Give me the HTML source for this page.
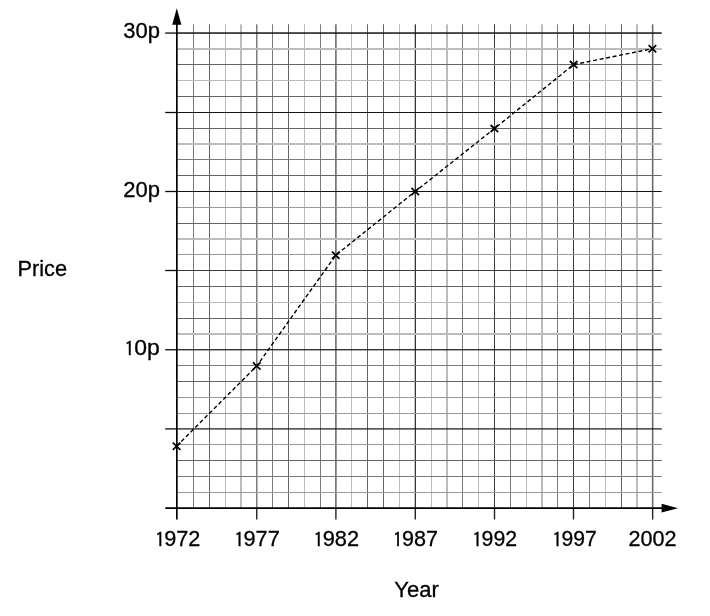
<!DOCTYPE html>
<html lang="en"><head><meta charset="utf-8"><title>Price by Year</title>
<style>html,body{margin:0;padding:0;background:#fff}svg{display:block;will-change:transform}</style>
</head><body>
<svg width="710" height="616" viewBox="0 0 710 616">
<rect width="710" height="616" fill="#fff"/>
<g style="mix-blend-mode:multiply">
<rect x="193" y="24.3" width="1.0" height="483.8" fill="#7c7c7c"/>
<rect x="209" y="24.3" width="1.0" height="483.8" fill="#646464"/>
<rect x="225" y="24.3" width="1.0" height="483.8" fill="#bababa"/>
<rect x="240" y="24.3" width="2.0" height="483.8" fill="#bcbcbc"/>
<rect x="256.0" y="24.3" width="1.5" height="483.8" fill="#7c7c7c"/>
<rect x="272" y="24.3" width="1.0" height="483.8" fill="#7c7c7c"/>
<rect x="288" y="24.3" width="1.0" height="483.8" fill="#646464"/>
<rect x="304" y="24.3" width="1.0" height="483.8" fill="#bababa"/>
<rect x="320" y="24.3" width="1.0" height="483.8" fill="#7c7c7c"/>
<rect x="335.15" y="24.3" width="1.5" height="483.8" fill="#646464"/>
<rect x="351" y="24.3" width="1.0" height="483.8" fill="#bababa"/>
<rect x="367" y="24.3" width="1.0" height="483.8" fill="#646464"/>
<rect x="383" y="24.3" width="1.0" height="483.8" fill="#646464"/>
<rect x="399" y="24.3" width="1.0" height="483.8" fill="#bababa"/>
<rect x="414.75" y="24.3" width="1.1" height="483.8" fill="#141414"/>
<rect x="431" y="24.3" width="1.0" height="483.8" fill="#bababa"/>
<rect x="446" y="24.3" width="2.0" height="483.8" fill="#bcbcbc"/>
<rect x="462" y="24.3" width="1.0" height="483.8" fill="#7c7c7c"/>
<rect x="478" y="24.3" width="1.0" height="483.8" fill="#bababa"/>
<rect x="494" y="24.3" width="1.0" height="483.8" fill="#3a3a3a"/>
<rect x="510" y="24.3" width="1.0" height="483.8" fill="#7c7c7c"/>
<rect x="526" y="24.3" width="1.0" height="483.8" fill="#bababa"/>
<rect x="541" y="24.3" width="2.0" height="483.8" fill="#bcbcbc"/>
<rect x="557" y="24.3" width="1.0" height="483.8" fill="#7c7c7c"/>
<rect x="573" y="24.3" width="1.0" height="483.8" fill="#3a3a3a"/>
<rect x="589" y="24.3" width="1.0" height="483.8" fill="#7c7c7c"/>
<rect x="605" y="24.3" width="1.0" height="483.8" fill="#bababa"/>
<rect x="621" y="24.3" width="1.0" height="483.8" fill="#646464"/>
<rect x="636" y="24.3" width="2.0" height="483.8" fill="#bcbcbc"/>
<rect x="651.9" y="24.3" width="1.5" height="483.8" fill="#646464"/>
<rect x="177.35" y="492" width="484.4" height="1.0" fill="#9a9a9a"/>
<rect x="177.35" y="476" width="484.4" height="1.0" fill="#7c7c7c"/>
<rect x="177.35" y="460" width="484.4" height="1.0" fill="#646464"/>
<rect x="177.35" y="444" width="484.4" height="1.0" fill="#9a9a9a"/>
<rect x="177.35" y="428.3" width="484.4" height="1.2" fill="#141414"/>
<rect x="177.35" y="413" width="484.4" height="1.0" fill="#9a9a9a"/>
<rect x="177.35" y="397" width="484.4" height="1.0" fill="#9a9a9a"/>
<rect x="177.35" y="381" width="484.4" height="1.0" fill="#646464"/>
<rect x="177.35" y="365" width="484.4" height="1.0" fill="#7c7c7c"/>
<rect x="177.35" y="349.15" width="484.4" height="1.2" fill="#141414"/>
<rect x="177.35" y="333" width="484.4" height="2.0" fill="#bcbcbc"/>
<rect x="177.35" y="318" width="484.4" height="1.0" fill="#646464"/>
<rect x="177.35" y="302" width="484.4" height="1.0" fill="#bababa"/>
<rect x="177.35" y="286" width="484.4" height="1.0" fill="#646464"/>
<rect x="177.35" y="270" width="484.4" height="1.0" fill="#3a3a3a"/>
<rect x="177.35" y="254" width="484.4" height="1.0" fill="#9a9a9a"/>
<rect x="177.35" y="238" width="484.4" height="2.0" fill="#bcbcbc"/>
<rect x="177.35" y="223" width="484.4" height="1.0" fill="#646464"/>
<rect x="177.35" y="207" width="484.4" height="1.0" fill="#9a9a9a"/>
<rect x="177.35" y="191" width="484.4" height="1.0" fill="#141414"/>
<rect x="177.35" y="175" width="484.4" height="1.0" fill="#646464"/>
<rect x="177.35" y="159" width="484.4" height="1.0" fill="#7c7c7c"/>
<rect x="177.35" y="143" width="484.4" height="2.0" fill="#bcbcbc"/>
<rect x="177.35" y="128" width="484.4" height="1.0" fill="#646464"/>
<rect x="177.35" y="112" width="484.4" height="1.0" fill="#141414"/>
<rect x="177.35" y="96" width="484.4" height="1.0" fill="#646464"/>
<rect x="177.35" y="80" width="484.4" height="1.0" fill="#bababa"/>
<rect x="177.35" y="64" width="484.4" height="1.0" fill="#646464"/>
<rect x="177.35" y="48" width="484.4" height="2.0" fill="#bcbcbc"/>
<rect x="177.35" y="32.3" width="484.4" height="1.5" fill="#141414"/>
</g>
<line x1="256.75" y1="508" x2="256.75" y2="519.5" stroke="#222" stroke-width="1.4"/>
<line x1="335.90" y1="508" x2="335.90" y2="519.5" stroke="#222" stroke-width="1.4"/>
<line x1="415.30" y1="508" x2="415.30" y2="519.5" stroke="#222" stroke-width="1.4"/>
<line x1="494.50" y1="508" x2="494.50" y2="519.5" stroke="#222" stroke-width="1.4"/>
<line x1="573.50" y1="508" x2="573.50" y2="519.5" stroke="#222" stroke-width="1.4"/>
<line x1="652.65" y1="508" x2="652.65" y2="519.5" stroke="#222" stroke-width="1.4"/>
<line x1="165.2" y1="428.90" x2="177" y2="428.90" stroke="#0a0a0a" stroke-width="1.3"/>
<line x1="165.2" y1="349.75" x2="177" y2="349.75" stroke="#0a0a0a" stroke-width="1.3"/>
<line x1="165.2" y1="270.50" x2="177" y2="270.50" stroke="#0a0a0a" stroke-width="1.3"/>
<line x1="165.2" y1="191.50" x2="177" y2="191.50" stroke="#0a0a0a" stroke-width="1.3"/>
<line x1="165.2" y1="112.50" x2="177" y2="112.50" stroke="#0a0a0a" stroke-width="1.3"/>
<line x1="165.2" y1="33.05" x2="177" y2="33.05" stroke="#0a0a0a" stroke-width="1.3"/>
<line x1="176.85" y1="20" x2="176.85" y2="519.6" stroke="#000" stroke-width="1.7"/>
<line x1="165.3" y1="508.15" x2="665" y2="508.15" stroke="#000" stroke-width="1.7"/>
<polygon points="176.8,8.3 181.4,24.8 172.2,24.8" fill="#000"/>
<polygon points="678,508.2 661.6,503.8 661.6,512.6" fill="#000"/>
<polyline points="176.60,446.20 256.75,366.00 335.75,255.20 415.25,191.45 494.40,128.60 573.60,64.60 652.40,48.70" fill="none" stroke="#000" stroke-width="1.4" stroke-dasharray="4 2.6"/>
<path d="M172.80 442.60L180.40 449.80M172.80 449.80L180.40 442.60" stroke="#000" stroke-width="1.75" fill="none"/>
<path d="M252.95 362.40L260.55 369.60M252.95 369.60L260.55 362.40" stroke="#000" stroke-width="1.75" fill="none"/>
<path d="M331.95 251.60L339.55 258.80M331.95 258.80L339.55 251.60" stroke="#000" stroke-width="1.75" fill="none"/>
<path d="M411.45 187.85L419.05 195.05M411.45 195.05L419.05 187.85" stroke="#000" stroke-width="1.75" fill="none"/>
<path d="M490.60 125.00L498.20 132.20M490.60 132.20L498.20 125.00" stroke="#000" stroke-width="1.75" fill="none"/>
<path d="M569.80 61.00L577.40 68.20M569.80 68.20L577.40 61.00" stroke="#000" stroke-width="1.75" fill="none"/>
<path d="M648.60 45.10L656.20 52.30M648.60 52.30L656.20 45.10" stroke="#000" stroke-width="1.75" fill="none"/>
<text transform="translate(160.00,37.95) scale(1.0,1)" text-anchor="end" font-family="Liberation Sans, Arial, sans-serif" font-size="22" fill="#000" stroke="#000" stroke-width="0.3">30p</text>
<text transform="translate(160.00,197.00) scale(1.0,1)" text-anchor="end" font-family="Liberation Sans, Arial, sans-serif" font-size="22" fill="#000" stroke="#000" stroke-width="0.3">20p</text>
<text y="355.3" font-family="Liberation Sans, Arial, sans-serif" font-size="22" fill="#000" stroke="#000" stroke-width="0.3"><tspan x="124.55" dy="0.7" font-family="IPAGothic, Liberation Sans, sans-serif" font-size="20">1</tspan><tspan x="134.25" dy="-0.7" textLength="25.5" lengthAdjust="spacingAndGlyphs">0p</tspan></text>
<text y="546" font-family="Liberation Sans, Arial, sans-serif" font-size="22" fill="#000" stroke="#000" stroke-width="0.3"><tspan x="154.99" dy="0.7" font-family="IPAGothic, Liberation Sans, sans-serif" font-size="20">1</tspan><tspan x="164.25" dy="-0.7" textLength="36.20" lengthAdjust="spacingAndGlyphs">972</tspan></text>
<text y="546" font-family="Liberation Sans, Arial, sans-serif" font-size="22" fill="#000" stroke="#000" stroke-width="0.3"><tspan x="234.24" dy="0.7" font-family="IPAGothic, Liberation Sans, sans-serif" font-size="20">1</tspan><tspan x="243.50" dy="-0.7" textLength="36.25" lengthAdjust="spacingAndGlyphs">977</tspan></text>
<text y="546" font-family="Liberation Sans, Arial, sans-serif" font-size="22" fill="#000" stroke="#000" stroke-width="0.3"><tspan x="313.39" dy="0.7" font-family="IPAGothic, Liberation Sans, sans-serif" font-size="20">1</tspan><tspan x="322.65" dy="-0.7" textLength="36.40" lengthAdjust="spacingAndGlyphs">982</tspan></text>
<text y="546" font-family="Liberation Sans, Arial, sans-serif" font-size="22" fill="#000" stroke="#000" stroke-width="0.3"><tspan x="392.84" dy="0.7" font-family="IPAGothic, Liberation Sans, sans-serif" font-size="20">1</tspan><tspan x="402.10" dy="-0.7" textLength="35.95" lengthAdjust="spacingAndGlyphs">987</tspan></text>
<text y="546" font-family="Liberation Sans, Arial, sans-serif" font-size="22" fill="#000" stroke="#000" stroke-width="0.3"><tspan x="472.34" dy="0.7" font-family="IPAGothic, Liberation Sans, sans-serif" font-size="20">1</tspan><tspan x="481.60" dy="-0.7" textLength="35.55" lengthAdjust="spacingAndGlyphs">992</tspan></text>
<text y="546" font-family="Liberation Sans, Arial, sans-serif" font-size="22" fill="#000" stroke="#000" stroke-width="0.3"><tspan x="552.14" dy="0.7" font-family="IPAGothic, Liberation Sans, sans-serif" font-size="20">1</tspan><tspan x="561.40" dy="-0.7" textLength="35.25" lengthAdjust="spacingAndGlyphs">997</tspan></text>
<text transform="translate(652.45,546.00) scale(0.981,1)" text-anchor="middle" font-family="Liberation Sans, Arial, sans-serif" font-size="22" fill="#000" stroke="#000" stroke-width="0.3">2002</text>
<text transform="translate(17.40,276.00) scale(0.99,1)" text-anchor="start" font-family="Liberation Sans, Arial, sans-serif" font-size="22" fill="#000" stroke="#000" stroke-width="0.3">Price</text>
<text transform="translate(416.50,596.50) scale(1.0,1)" text-anchor="middle" font-family="Liberation Sans, Arial, sans-serif" font-size="22" fill="#000" stroke="#000" stroke-width="0.3">Year</text>
</svg>
</body></html>
